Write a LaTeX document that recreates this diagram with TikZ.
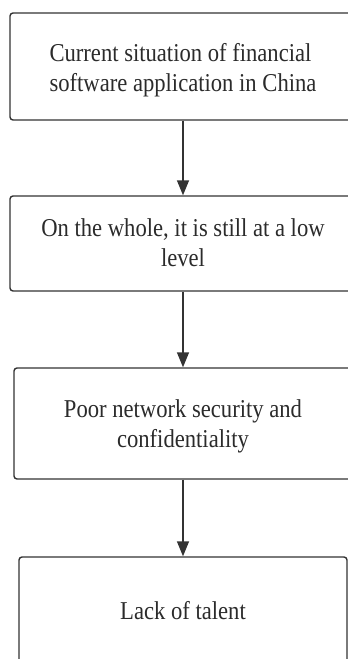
\documentclass[tikz,border=0pt]{standalone}
\usepackage{fontspec}
\setmainfont{Liberation Serif}[FakeStretch=0.88]
\usetikzlibrary{arrows.meta}
\definecolor{edge}{HTML}{333333}
\definecolor{ink}{HTML}{2B2B2B}
% text block lowered inside its box while keeping the box's own centring
\newcommand{\steptext}[3][c]{\raisebox{#2}[\height][\depth]{\begin{tabular}{@{}#1@{}}#3\end{tabular}}}
\tikzset{
  flowbox/.style={draw=edge, line width=1.4pt, rounded corners=3pt, fill=white,
    text=ink, align=center, inner sep=0pt,
    font=\fontsize{25.7pt}{30pt}\selectfont},
  flowarrow/.style={draw=edge, line width=1.4pt,
    -{Triangle[length=15pt,width=12pt]}}
}
\begin{document}
\begin{tikzpicture}[x=1pt,y=-1pt]
  \useasboundingbox (0,0) rectangle (348,659);
  \clip (0,0) rectangle (348,659);
  % process steps, top to bottom
  \node[flowbox, minimum width=346pt, minimum height=107pt] (s1) at (183,66.5)
    {\steptext[l]{-4pt}{Current situation of financial\\software application in China}};
  \node[flowbox, minimum width=346pt, minimum height=95pt] (s2) at (183,243.5)
    {\steptext{-2pt}{On the whole, it is still at a low\\level}};
  \node[flowbox, minimum width=338pt, minimum height=111pt] (s3) at (183,423.5)
    {\steptext{-3pt}{Poor network security and\\confidentiality}};
  \node[flowbox, minimum width=328pt, minimum height=108pt] (s4) at (183,611)
    {\steptext{-2pt}{Lack of talent}};
  % links between steps
  \draw[flowarrow] (s1.south) -- (s2.north);
  \draw[flowarrow] (s2.south) -- (s3.north);
  \draw[flowarrow] (s3.south) -- (s4.north);
\end{tikzpicture}
\end{document}
